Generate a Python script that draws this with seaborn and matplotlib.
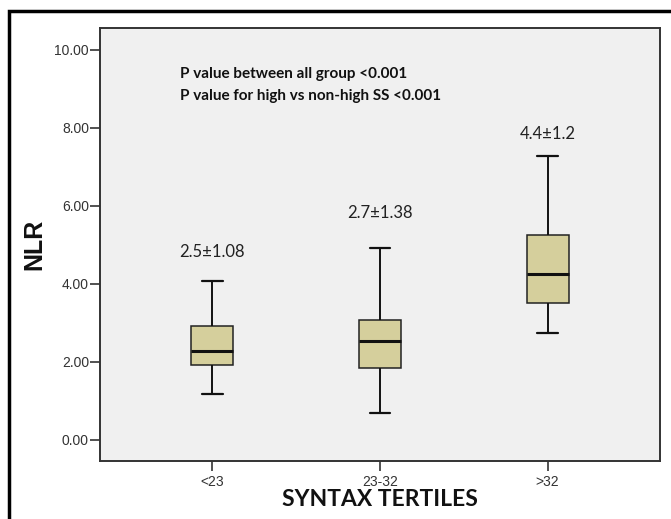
import numpy as np
import pandas as pd
import matplotlib
matplotlib.use("Agg")
import matplotlib.pyplot as plt
from matplotlib.patches import Rectangle
from matplotlib.ticker import FormatStrFormatter
import seaborn as sns

# ---- data ----
groups = ["<23", "23-32", ">32"]
whisker_low = [1.18, 0.68, 2.73]
q1 = [1.92, 1.85, 3.51]
median = [2.28, 2.54, 4.25]
q3 = [2.91, 3.08, 5.25]
whisker_high = [4.08, 4.92, 7.28]
box_labels = ["2.5\u00b11.08", "2.7\u00b11.38", "4.4\u00b11.2"]
label_y = [4.82, 5.82, 7.85]
yticks = [0, 2, 4, 6, 8, 10]
note_lines = ["P value between all group <0.001",
              "P value for high vs non-high SS <0.001"]

# five-number summaries -> long table (exact quartiles with 5 points)
rows = []
for g, a, b, c, d, e in zip(groups, whisker_low, q1, median, q3, whisker_high):
    for v in (a, b, c, d, e):
        rows.append({"group": g, "NLR": v})
df = pd.DataFrame(rows)

sns.set_style("white")
plt.rcParams["font.family"] = ["Liberation Sans", "DejaVu Sans"]

W, H = 671, 519
fig = plt.figure(figsize=(W / 100, H / 100), dpi=100)
ax = fig.add_axes([100 / W, (H - 461) / H, 560 / W, (461 - 28) / H])
ax.set_facecolor("#F0F0F0")

sns.boxplot(data=df, x="group", y="NLR", order=groups, whis=(0, 100),
            width=0.25, color="#D5CF9C", saturation=1, ax=ax,
            boxprops=dict(edgecolor="#222222", linewidth=1.1),
            medianprops=dict(color="#111111", linewidth=2.2),
            whiskerprops=dict(color="#111111", linewidth=1.4),
            capprops=dict(color="#111111", linewidth=1.6))

ax.set_xlim(-0.67, 2.67)
ax.set_ylim(-0.54, 10.56)
ax.set_yticks(yticks)
ax.yaxis.set_major_formatter(FormatStrFormatter("%.2f"))
ax.tick_params(axis="both", direction="out", length=7, width=1.2,
               color="#333333", labelcolor="#333333", left=True, bottom=True)
ax.tick_params(axis="y", labelsize=10, pad=1)
ax.tick_params(axis="x", labelsize=10, pad=3)
for s in ax.spines.values():
    s.set_color("#333333")
    s.set_linewidth(1.4)

ax.set_xlabel("SYNTAX TERTILES", fontsize=16.5, fontweight="bold",
              family=["Lato", "DejaVu Sans"], color="#111111", labelpad=0)
ax.set_ylabel("NLR", fontsize=18, fontweight="bold", color="#111111",
              labelpad=6)

for i, (t, yv) in enumerate(zip(box_labels, label_y)):
    ax.text(i, yv, t, ha="center", va="center", fontsize=12,
            family=["Lato", "DejaVu Sans"], color="#222222")

for k, line in enumerate(note_lines):
    ax.text(-0.19, 9.38 - 0.56 * k, line, ha="left", va="center",
            fontsize=11, fontweight="bold",
            family=["Lato", "DejaVu Sans"], color="#111111")

# outer frame (cut at right and bottom like the reference)
fig.patches.append(Rectangle((9 / W, -0.1), 1.2, 1 - 11 / H + 0.1,
                             transform=fig.transFigure, fill=False,
                             edgecolor="black", linewidth=2.5))

fig.savefig("out.png", dpi=100)
